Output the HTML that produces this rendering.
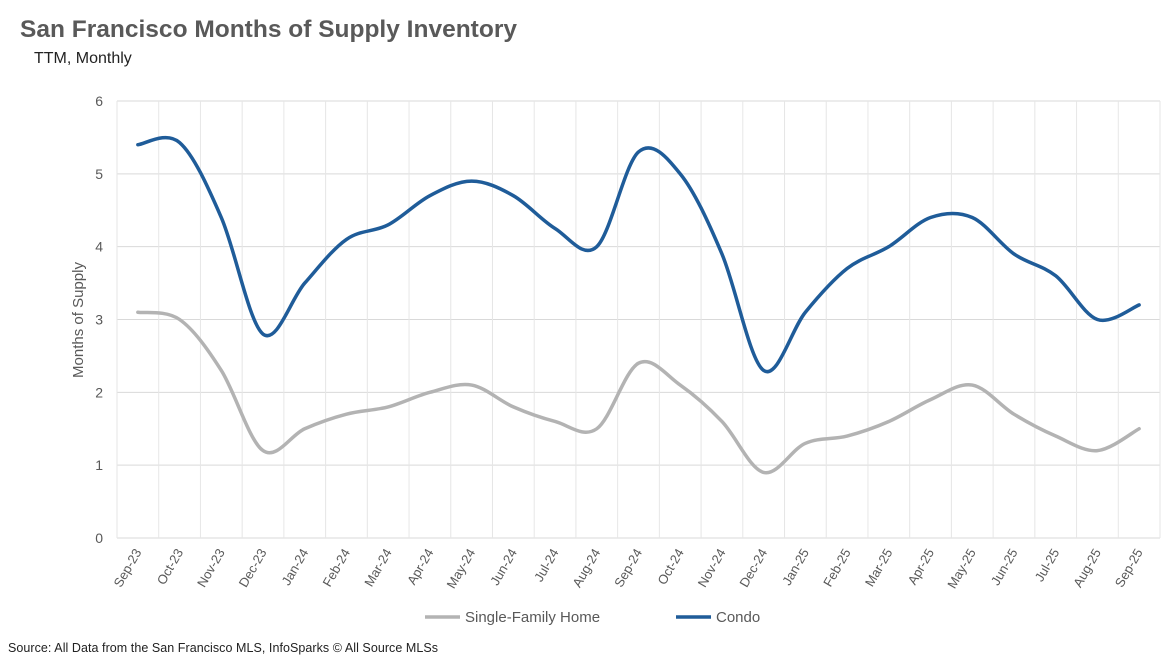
<!DOCTYPE html>
<html><head><meta charset="utf-8"><style>
body{margin:0;background:#fff;font-family:"Liberation Sans",sans-serif;}
</style></head><body>
<svg width="1176" height="666" xmlns="http://www.w3.org/2000/svg">
<rect width="1176" height="666" fill="#fff"/>
<text x="20" y="37" font-size="24.5" font-weight="bold" fill="#595959" textLength="497">San Francisco Months of Supply Inventory</text>
<text x="34" y="63" font-size="16" fill="#222">TTM, Monthly</text>
<g id="grid"></g>
<g id="plot"></g>
<text transform="translate(83,320) rotate(-90)" text-anchor="middle" font-size="15" fill="#595959">Months of Supply</text>
<g>
<line x1="425" y1="617" x2="460" y2="617" stroke="#b3b3b3" stroke-width="3.5"/>
<text x="465" y="622" font-size="15" fill="#595959">Single-Family Home</text>
<line x1="676" y1="617" x2="711" y2="617" stroke="#1f5c99" stroke-width="3.5"/>
<text x="716" y="622" font-size="15" fill="#595959">Condo</text>
</g>
<text x="8" y="652" font-size="12.5" fill="#222" textLength="430">Source: All Data from the San Francisco MLS, InfoSparks © All Source MLSs</text>
</svg>
<script>
const categories=["Sep-23","Oct-23","Nov-23","Dec-23","Jan-24","Feb-24","Mar-24","Apr-24","May-24","Jun-24","Jul-24","Aug-24","Sep-24","Oct-24","Nov-24","Dec-24","Jan-25","Feb-25","Mar-25","Apr-25","May-25","Jun-25","Jul-25","Aug-25","Sep-25"];
const condo=[5.4,5.43,4.4,2.8,3.5,4.1,4.3,4.7,4.9,4.7,4.25,4.0,5.3,5.0,3.9,2.3,3.1,3.7,4.0,4.4,4.4,3.9,3.6,3.0,3.2];
const sfh=[3.1,3.0,2.3,1.2,1.5,1.7,1.8,2.0,2.1,1.8,1.6,1.5,2.4,2.1,1.6,0.9,1.3,1.4,1.6,1.9,2.1,1.7,1.4,1.2,1.5];
const yTicks=[0,1,2,3,4,5,6];
const NS="http://www.w3.org/2000/svg";
const L=117,R=1160,T=101,B=538,yMax=6;
const band=(R-L)/categories.length;
const xs=i=>L+band*(i+0.5);
const ys=v=>B-(v/yMax)*(B-T);
const grid=document.getElementById('grid'),plot=document.getElementById('plot');
function mk(tag,attrs,parent){const e=document.createElementNS(NS,tag);for(const k in attrs)e.setAttribute(k,attrs[k]);parent.appendChild(e);return e;}
yTicks.forEach(t=>{
  const l=mk('line',{x1:L,x2:R,y1:ys(t),y2:ys(t),stroke:'#d9d9d9','stroke-width':1},grid);
  
  
  const tx=mk('text',{x:L-14,y:ys(t)+5,'text-anchor':'end','font-size':14,fill:'#595959'},grid);
  tx.textContent=t;
  
  
});
for(let i=0;i<=categories.length;i++){
  const l=mk('line',{x1:L+band*i,x2:L+band*i,y1:T,y2:B,stroke:'#e6e6e6','stroke-width':1},grid);
  
  
}
categories.forEach((c,i)=>{
  const x=xs(i),y=B+10;
  const tx=mk('text',{x:x+4,y:y+4,'text-anchor':'end','font-size':13,fill:'#595959',transform:`rotate(-60 ${x+4} ${y+4})`},grid);
  tx.textContent=c;
  
  
});
function smooth(vals){
  const p=vals.map((v,i)=>[xs(i),ys(v)]);
  let d=`M${p[0][0]},${p[0][1]}`;
  for(let i=0;i<p.length-1;i++){
    const p0=p[Math.max(0,i-1)],p1=p[i],p2=p[i+1],p3=p[Math.min(p.length-1,i+2)];
    const c1=[p1[0]+(p2[0]-p0[0])/6,p1[1]+(p2[1]-p0[1])/6];
    const c2=[p2[0]-(p3[0]-p1[0])/6,p2[1]-(p3[1]-p1[1])/6];
    d+=` C${c1[0]},${c1[1]} ${c2[0]},${c2[1]} ${p2[0]},${p2[1]}`;
  }
  return d;
}
const s1=mk('path',{d:smooth(sfh),fill:'none',stroke:'#b3b3b3','stroke-width':3.5,'stroke-linecap':'round'},plot);


const s2=mk('path',{d:smooth(condo),fill:'none',stroke:'#1f5c99','stroke-width':3.5,'stroke-linecap':'round'},plot);


</script>
</body></html>
